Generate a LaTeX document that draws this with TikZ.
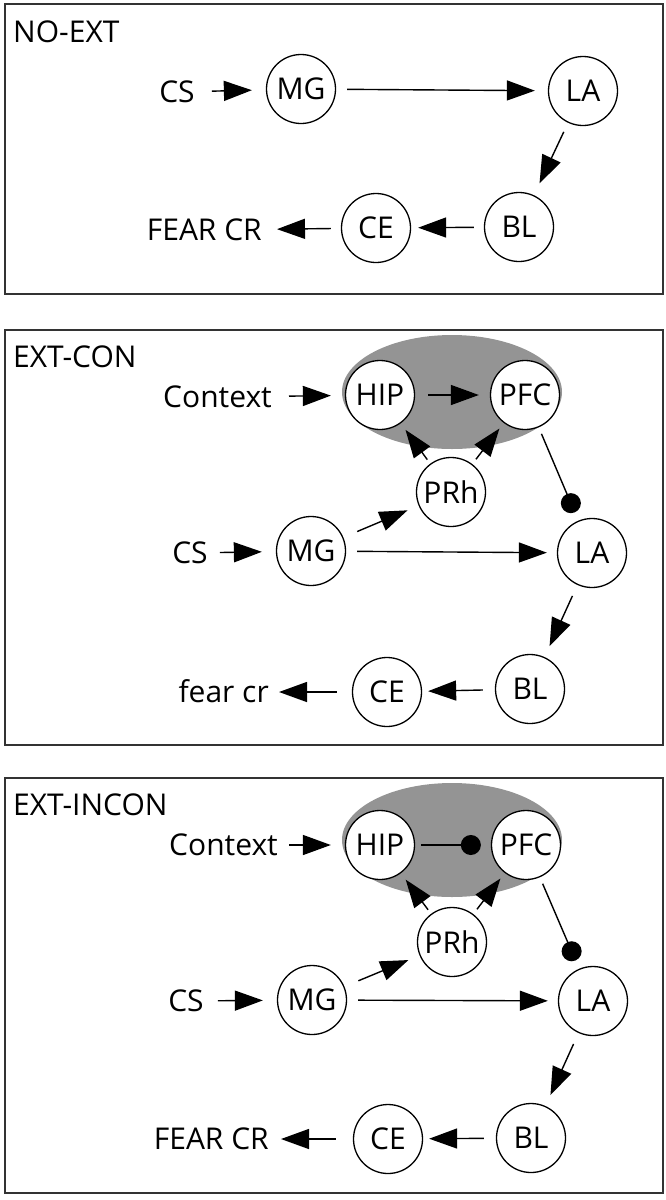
\documentclass[tikz,border=0pt]{standalone}
\usepackage{fontspec}
\setmainfont{Open Sans}
\usetikzlibrary{arrows.meta}
\tikzset{>={Triangle[length=28pt,width=20pt]}}
\definecolor{haze}{gray}{0.58}

\begin{document}
\begin{tikzpicture}[x=1pt,y=-1pt,
    area/.style={circle,draw,line width=1.3pt,minimum size=69pt,inner sep=0pt,fill=white},
    lbl/.style={inner sep=0pt,text height=21pt,text depth=0pt},
    link/.style={->,line width=1.4pt},
    dotlink/.style={-{Circle[length=20pt]},line width=1.4pt},
    panel/.style={draw=black!80,line width=1.6pt}]
  \fontsize{30}{35}\selectfont
  \useasboundingbox (0,0) rectangle (666,1200);

  % NO-EXT
  \draw[panel] (5,4) rectangle (663,294);
  \node[lbl,anchor=west] (titleA) at (13,32) {NO-EXT};
  \node[lbl] (csA) at (177,92) {CS};
  \node[area] (mgA) at (301,89) {MG};
  \node[area] (laA) at (583,91) {LA};
  \node[area] (blA) at (519,227) {BL};
  \node[area] (ceA) at (376,228) {CE};
  \node[lbl,anchor=east] (fearA) at (262,230) {FEAR CR};

  \draw[link,shorten <=17pt,shorten >=14pt] (csA) -- (mgA);
  \draw[link,shorten <=11pt,shorten >=13pt] (mgA) -- (laA);
  \draw[link,shorten <=10pt,shorten >=13pt] (laA) -- (blA);
  \draw[link,shorten <=10pt,shorten >=7pt] (blA) -- (ceA);
  \draw[link,shorten <=10pt,shorten >=15pt] (ceA) -- (fearA);

  % EXT-CON
  \draw[panel] (5,330) rectangle (663,745);
  \fill[haze] (452,392) ellipse [x radius=110, y radius=57];
  \node[lbl,anchor=west] (titleB) at (13,357) {EXT-CON};
  \node[lbl,anchor=east] (contextB) at (272,397) {Context};
  \node[area] (hipB) at (380,395) {HIP};
  \node[area] (pfcB) at (525,395) {PFC};
  \node[area] (prhB) at (451,492) {PRh};
  \node[lbl] (csB) at (190,553) {CS};
  \node[area] (mgB) at (311,551) {MG};
  \node[area] (laB) at (592,553) {LA};
  \node[area] (blB) at (530,689) {BL};
  \node[area] (ceB) at (387,692) {CE};
  \node[lbl,anchor=east] (fearB) at (269,692) {fear cr};

  \draw[link,shorten <=17pt,shorten >=14pt] (contextB) -- (hipB);
  \draw[link,shorten <=13pt,shorten >=11pt] (hipB) -- (pfcB);
  \draw[link,shorten <=5pt,shorten >=8pt] (prhB) -- (hipB);
  \draw[link,shorten <=6pt,shorten >=7pt] (prhB) -- (pfcB);
  \draw[link,shorten <=15pt,shorten >=12pt] (mgB) -- (prhB);
  \draw[link,shorten <=12pt,shorten >=14pt] (csB) -- (mgB);
  \draw[link,shorten <=11pt,shorten >=10pt] (mgB) -- (laB);
  \draw[link,shorten <=12pt,shorten >=12pt] (laB) -- (blB);
  \draw[link,shorten <=12pt,shorten >=6pt] (blB) -- (ceB);
  \draw[link,shorten <=15pt,shorten >=10pt] (ceB) -- (fearB);
  \draw[dotlink,shorten <=7pt,shorten >=9pt] (pfcB) -- (laB);

  % EXT-INCON
  \begin{scope}[yshift=-448pt]
    \draw[panel] (5,330) rectangle (663,745);
    \fill[haze] (452,392) ellipse [x radius=110, y radius=57];
    \node[lbl,anchor=west] (titleC) at (13,357) {EXT-INCON};
    \node[lbl,anchor=east] (contextC) at (278,397) {Context};
    \node[area] (hipC) at (380,397) {HIP};
    \node[area] (pfcC) at (526,397) {PFC};
    \node[area] (prhC) at (452,494) {PRh};
    \node[lbl] (csC) at (186,553) {CS};
    \node[area] (mgC) at (312,552) {MG};
    \node[area] (laC) at (593,553) {LA};
    \node[area] (blC) at (531,690) {BL};
    \node[area] (ceC) at (388,691) {CE};
    \node[lbl,anchor=east] (fearC) at (269,691) {FEAR CR};

    \draw[link,shorten <=11pt,shorten >=14pt] (contextC) -- (hipC);
    \draw[dotlink,shorten <=6pt,shorten >=10pt] (hipC) -- (pfcC);
    \draw[link,shorten <=5pt,shorten >=8pt] (prhC) -- (hipC);
    \draw[link,shorten <=6pt,shorten >=7pt] (prhC) -- (pfcC);
    \draw[link,shorten <=15pt,shorten >=12pt] (mgC) -- (prhC);
    \draw[link,shorten <=14pt,shorten >=14pt] (csC) -- (mgC);
    \draw[link,shorten <=11pt,shorten >=10pt] (mgC) -- (laC);
    \draw[link,shorten <=12pt,shorten >=12pt] (laC) -- (blC);
    \draw[link,shorten <=12pt,shorten >=6pt] (blC) -- (ceC);
    \draw[link,shorten <=17pt,shorten >=12pt] (ceC) -- (fearC);
    \draw[dotlink,shorten <=7pt,shorten >=9pt] (pfcC) -- (laC);
  \end{scope}

\end{tikzpicture}
\end{document}
